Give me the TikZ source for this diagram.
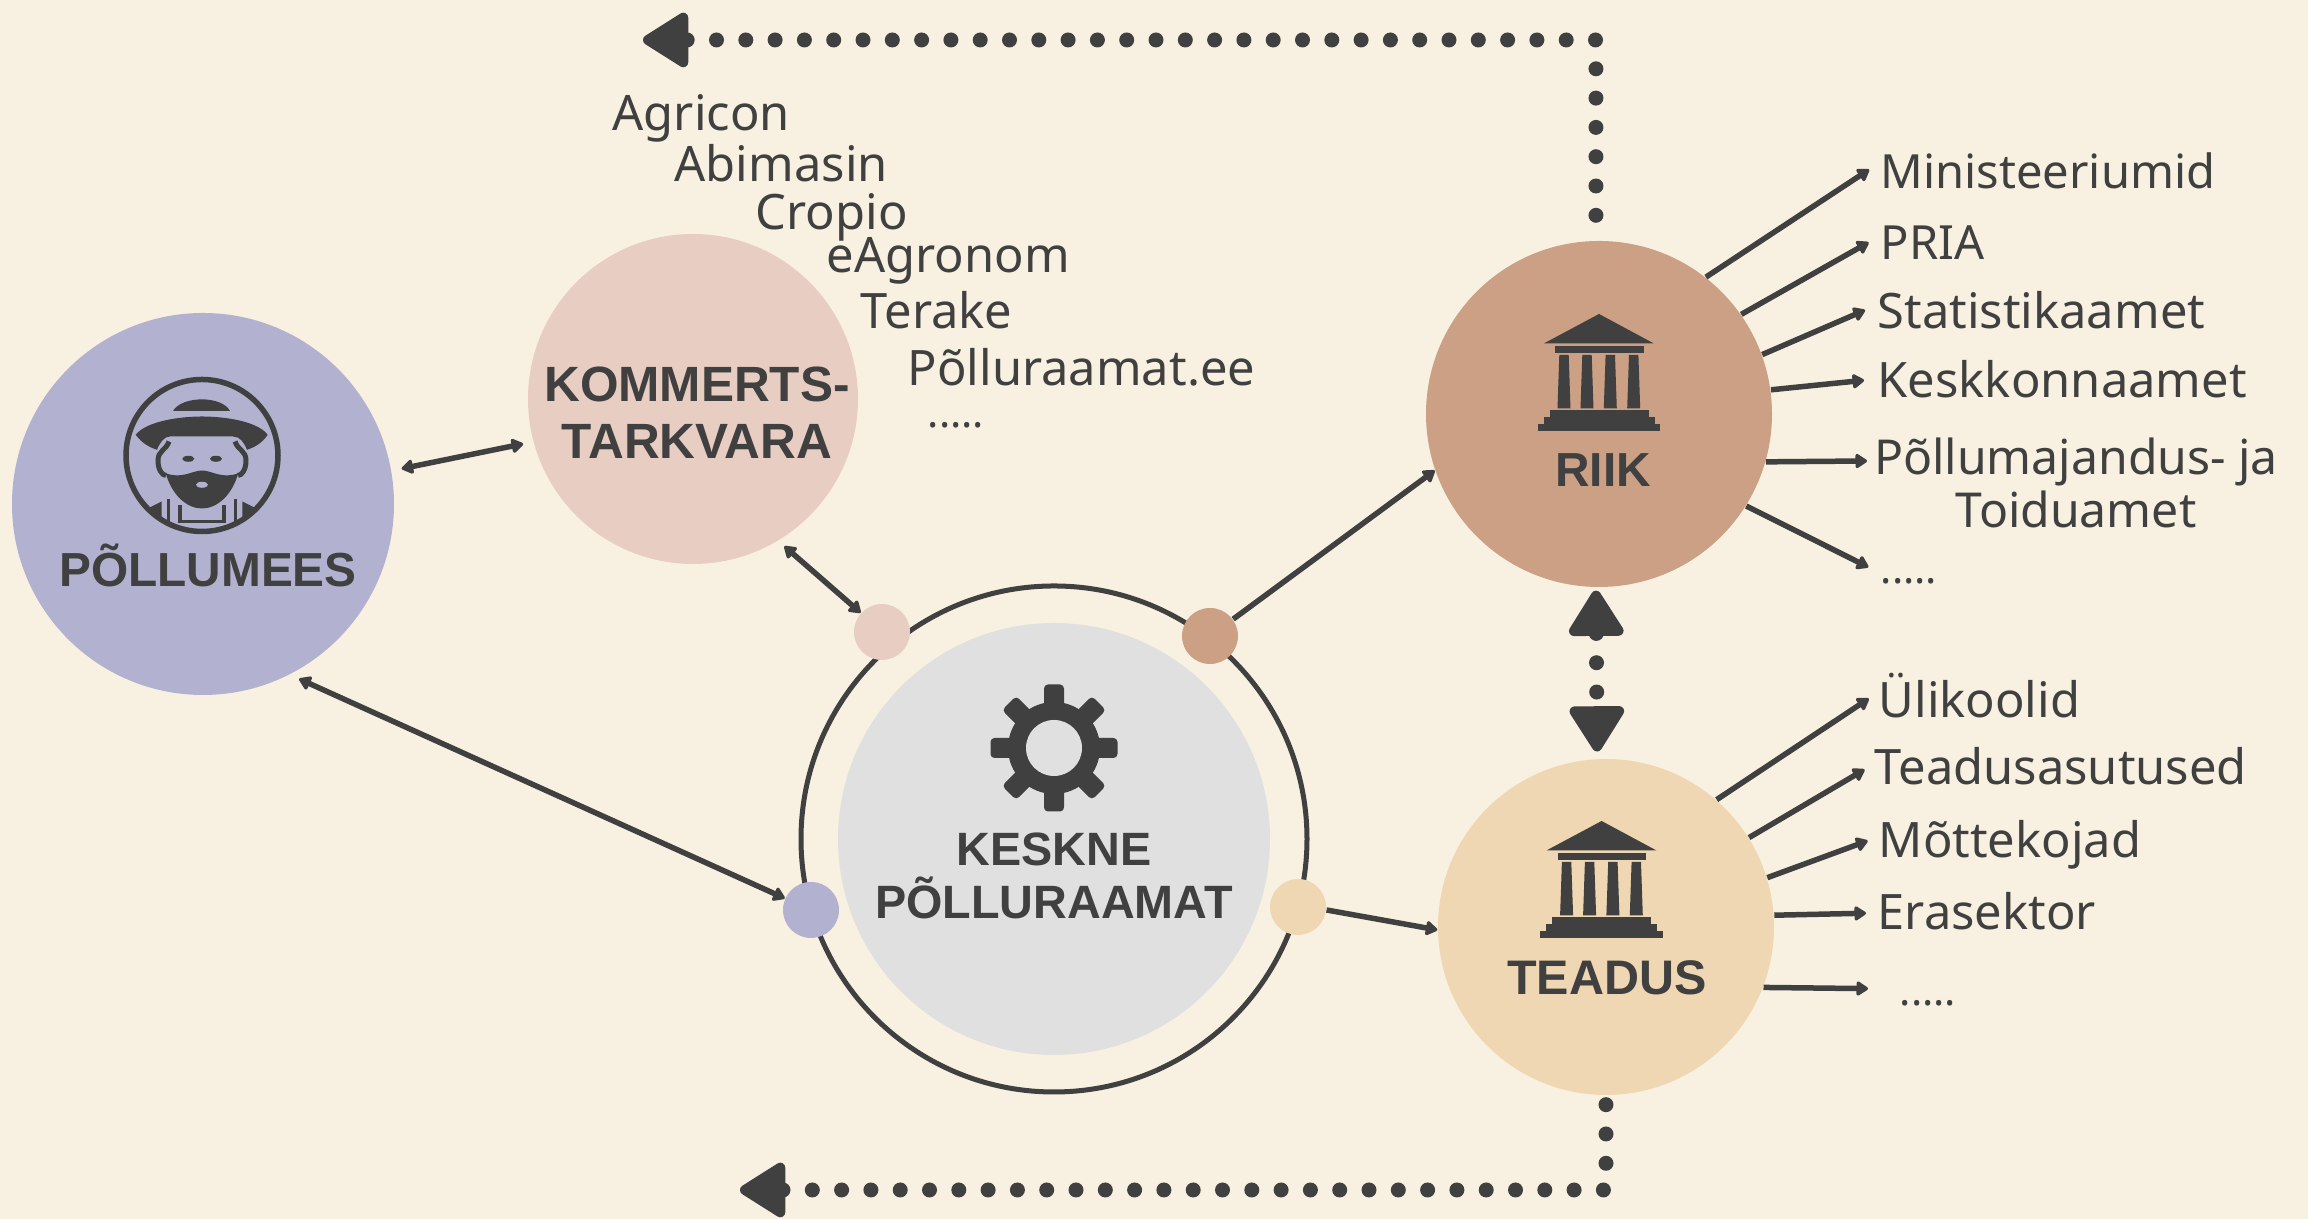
\documentclass[tikz,border=0pt]{standalone}
\usepackage{fontspec}
\setmainfont{Noto Sans}
\newfontfamily\labelfont{Liberation Sans}
\usetikzlibrary{arrows.meta}
\definecolor{bgcol}{HTML}{F8F1E1}
\definecolor{ink}{HTML}{404040}
\definecolor{farmercol}{HTML}{B2B1CF}
\definecolor{softcol}{HTML}{E8CDC3}
\definecolor{statecol}{HTML}{CBA085}
\definecolor{sciencecol}{HTML}{F0D7B3}
\definecolor{hubcol}{HTML}{E0E0E0}
\tikzset{
    blob/.style={circle,inner sep=0pt,minimum size=#1},
    title/.style={font=\labelfont\bfseries\fontsize{#1}{15.6}\selectfont,text=ink,align=center,inner sep=0pt},
    title/.default=13.6,
    item/.style={font=\fontsize{#1}{15}\selectfont,text=ink,inner sep=0pt,anchor=west,text height=9.6pt,text depth=0pt},
    item/.default=13.9,
    link/.style={draw=ink,line width=0.055cm,>={Triangle[round,length=0.13cm,width=0.16cm,line width=0.05cm]}},
    dotline/.style={draw=ink,line width=0.15cm,line cap=round,dash pattern=on 0pt off 0.293cm},
    bighead/.tip={Triangle[round,length=0.5cm,width=0.6cm,line width=0.1cm]}
}
\newcommand{\templeicon}[2]{
    \begin{scope}[shift={(#1,#2)},ink]
        \fill (0,1.167) -- (0.547,0.873) -- (-0.55,0.873) -- cycle;
        \fill (-0.437,0.78) rectangle (0.447,0.847);
        \foreach \x in {-0.35,-0.12,0.113,0.347} {
            \fill (\x-0.065,0.223) -- (\x+0.065,0.223) -- (\x+0.047,0.757) -- (\x-0.047,0.757) -- cycle;
        }
        \fill (-0.493,0.14) rectangle (0.497,0.203);
        \fill (-0.553,0.067) rectangle (0.557,0.14);
        \fill (-0.613,0) rectangle (0.613,0.067);
    \end{scope}
}
\begin{document}
\begin{tikzpicture}
    \useasboundingbox (0,0) rectangle (23.08,12.19);
    \fill[bgcol] (0,0) rectangle (23.08,12.19);

    \node[blob=3.82cm,fill=farmercol] (pollumees) at (2.03,7.15) {};
    \node[blob=3.30cm,fill=softcol] (kommerts) at (6.93,8.20) {};
    \node[blob=5.06cm,draw=ink,line width=0.05cm] (ring) at (10.54,3.80) {};
    \node[blob=4.32cm,fill=hubcol] (keskne) at (10.54,3.80) {};
    \node[blob=3.46cm,fill=statecol] (riik) at (15.99,8.05) {};
    \node[blob=3.36cm,fill=sciencecol] (teadus) at (16.06,2.92) {};
    \node[blob=0.56cm,fill=softcol] (softdot) at (8.82,5.87) {};
    \node[blob=0.56cm,fill=statecol] (statedot) at (12.10,5.83) {};
    \node[blob=0.56cm,fill=farmercol] (farmerdot) at (8.11,3.09) {};
    \node[blob=0.56cm,fill=sciencecol] (sciencedot) at (12.98,3.12) {};

    \node[title] (pollumeeslabel) at (2.08,6.54) {PÕLLUMEES};
    \node[title=14.1] (kommertslabel) at (6.97,8.06) {KOMMERTS-\\[0.5pt]TARKVARA};
    \node[title=13.3] (keskneLabel) at (10.54,3.43) {KESKNE\\[-0.3pt]PÕLLURAAMAT};
    \node[title] (riiklabel) at (16.03,7.49) {RIIK};
    \node[title=13.8] (teaduslabel) at (16.07,2.41) {TEADUS};

    \begin{scope}[shift={(2.02,7.635)},ink]
        \draw[line width=0.055cm] (0,0) circle (0.76);
        \fill (-0.29,0.445) .. controls (-0.2,0.6) and (0.2,0.6) .. (0.28,0.445) -- cycle;
        \fill (-0.663,0.207) .. controls (-0.55,0.35) and (-0.2,0.39) .. (0,0.39) .. controls (0.2,0.39) and (0.55,0.35) .. (0.657,0.207) .. controls (0.6,0.12) and (0.52,0.08) .. (0.45,0.057) .. controls (0.42,0.13) and (0.38,0.19) .. (0.31,0.19) -- (-0.32,0.19) .. controls (-0.38,0.19) and (-0.42,0.13) .. (-0.45,0.057) .. controls (-0.52,0.08) and (-0.6,0.12) .. cycle;
        \fill (-0.363,-0.177) .. controls (-0.2,-0.24) and (-0.1,-0.15) .. (0,-0.15) .. controls (0.1,-0.15) and (0.2,-0.24) .. (0.363,-0.177) .. controls (0.3,-0.4) and (0.15,-0.53) .. (0,-0.53) .. controls (-0.15,-0.53) and (-0.3,-0.4) .. cycle;
        \fill[farmercol] (0,-0.293) ellipse (0.06 and 0.03);
        \fill (-0.137,-0.033) ellipse (0.06 and 0.03);
        \fill (0.14,-0.033) ellipse (0.06 and 0.03);
        \foreach \s in {-1,1} {
            \draw[line width=0.05cm] (\s*0.33,0.14) .. controls (\s*0.36,0.05) and (\s*0.44,0.05) .. (\s*0.44,-0.05) .. controls (\s*0.44,-0.14) and (\s*0.4,-0.2) .. (\s*0.36,-0.2);
            \fill (\s*0.537,-0.527) -- (\s*0.403,-0.46) -- (\s*0.403,-0.627) -- cycle;
            \draw[line width=0.035cm] (\s*0.335,-0.44) -- (\s*0.335,-0.71);
        }
        \draw[line width=0.035cm] (-0.22,-0.5) -- (-0.22,-0.66) -- (0.22,-0.66) -- (0.22,-0.5);
    \end{scope}

    \foreach \x in {0,45,...,315} {
        \fill[ink,rounded corners=0.04cm,shift={(10.54,4.71)},rotate=\x] (0.35,-0.1) rectangle (0.635,0.1);
    }
    \fill[ink] (10.54,4.71) circle (0.46);
    \fill[hubcol] (10.54,4.71) circle (0.28);

    \templeicon{15.99}{7.883}
    \templeicon{16.016}{2.813}

    \node[item] (agricon) at (6.12,11.05) {Agricon};
    \node[item] (abimasin) at (6.74,10.54) {Abimasin};
    \node[item] (cropio) at (7.55,10.06) {Cropio};
    \node[item] (eagronom) at (8.26,9.63) {eAgronom};
    \node[item] (terake) at (8.60,9.07) {Terake};
    \node[item] (polluraamatee) at (9.07,8.50) {Põlluraamat.ee};
    \node[item=12] (softmore) at (9.27,8.08) {.....};

    \node[item=13.4] (ministeeriumid) at (18.80,10.47) {Ministeeriumid};
    \node[item=13.4] (pria) at (18.80,9.76) {PRIA};
    \node[item] (statistikaamet) at (18.77,9.07) {Statistikaamet};
    \node[item] (keskkonnaamet) at (18.77,8.38) {Keskkonnaamet};
    \node[font=\fontsize{13.7}{15}\selectfont,text=ink,inner sep=0pt,align=center] (pta) at (20.76,7.36) {Põllumajandus- ja\\Toiduamet};
    \node[item=12] (statemore) at (18.80,6.52) {.....};
    \coordinate (ptaend) at (18.67,7.58);

    \node[item] (ylikoolid) at (18.78,5.18) {Ülikoolid};
    \node[item] (asutused) at (18.74,4.51) {Teadusasutused};
    \node[item] (mottekojad) at (18.78,3.78) {Mõttekojad};
    \node[item] (erasektor) at (18.77,3.06) {Erasektor};
    \node[item=12] (sciencemore) at (18.99,2.30) {.....};

    \draw[link,<->,shorten <=0.1cm,shorten >=0.1cm] (pollumees.10) -- (kommerts.195);
    \draw[link,<->,shorten <=0.08cm] (kommerts.-59) -- (softdot.138);
    \draw[link,<->,shorten <=0.1cm] (pollumees.-63) -- (farmerdot.156);
    \draw[link,->] (statedot.36) -- (riik.199);
    \draw[link,->] (sciencedot.-6) -- (teadus.181);

    \foreach \a/\b/\c in {52/ministeeriumid/0.096,35/pria/0.07,20/statistikaamet/0.07,8/keskkonnaamet/0.02,-32/statemore/-0.06} {
        \draw[link,->,shorten >=0.13cm] (riik.\a) -- ([yshift=\c cm]\b.west);
    }
    \draw[link,->] (riik.-16) -- (ptaend);
    \foreach \a/\b/\c in {49/ylikoolid/0.085,32/asutused/0.04,17/mottekojad/0.04,4/erasektor/0} {
        \draw[link,->,shorten >=0.11cm] (teadus.\a) -- ([yshift=\c cm]\b.west);
    }
    \draw[link,->,shorten >=0.31cm] (teadus.-21) -- (sciencemore.west);

    \coordinate (topend) at (6.43,11.79);
    \coordinate (bottomend) at (7.40,0.29);
    \draw[dotline,-bighead,shorten <=0.25cm] (riik.91) |- (topend);
    \draw[dotline,-bighead,shorten <=0.09cm] (teadus.-90) |- (bottomend);
    \draw[dotline,bighead-bighead,shorten >=0.07cm,shorten <=0.03cm] (riik.-91) -- (teadus.93);
\end{tikzpicture}
\end{document}
